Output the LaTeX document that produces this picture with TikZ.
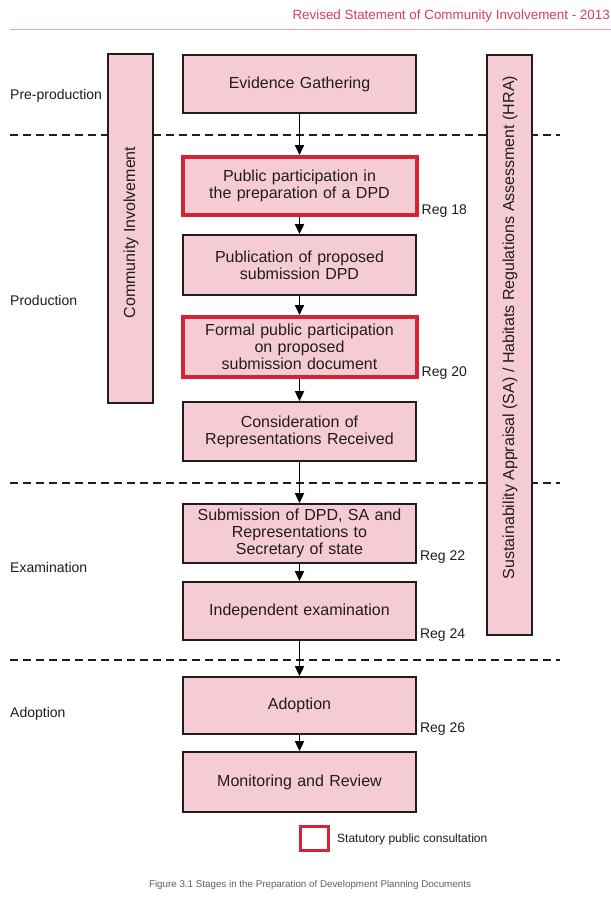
\documentclass[tikz,border=0pt]{standalone}
\usepackage{fontspec}
\setmainfont{Liberation Sans}
\usetikzlibrary{arrows.meta}
\definecolor{boxfill}{RGB}{245,204,212}
\definecolor{regred}{RGB}{214,34,52}
\definecolor{hdrred}{RGB}{216,62,92}
\definecolor{hdrline}{RGB}{236,160,178}
\definecolor{ink}{RGB}{35,28,28}
\definecolor{capgray}{RGB}{95,95,95}
\begin{document}
\begin{tikzpicture}[x=1pt,y=-1pt,
  stagebox/.style={draw=ink, line width=1.8pt, fill=boxfill, minimum width=233pt,
    text width=226pt, align=center, font=\fontsize{16}{17}\selectfont, text=ink, inner sep=0pt},
  statbox/.style={stagebox, draw=regred, line width=4pt, minimum width=234pt},
  sidebar/.style={draw=ink, line width=1.8pt, fill=boxfill, minimum width=45pt, inner sep=0pt},
  sidetext/.style={rotate=90, font=\fontsize{16}{17}\selectfont, text=ink, inner sep=0pt},
  phase/.style={anchor=west, font=\fontsize{14}{16}\selectfont, text=ink, inner sep=0pt},
  reglabel/.style={anchor=west, font=\fontsize{14}{16}\selectfont, text=ink, inner sep=0pt},
  divider/.style={draw=ink, line width=2pt, dash pattern=on 8pt off 5pt},
  flow/.style={draw=black, line width=1.8pt, -{Triangle[length=10pt,width=9pt]}}
]
\useasboundingbox (0,0) rectangle (611,914);
\fill[white] (0,0) rectangle (611,914);

% header
\node[anchor=east, font=\fontsize{13.4}{15}\selectfont, text=hdrred, inner sep=0pt] (hdr) at (610,16) {Revised Statement of Community Involvement - 2013};
\coordinate (hl1) at (10,29.5);
\coordinate (hl2) at (611,29.5);
\draw[hdrline, line width=1.5pt] (hl1) -- (hl2);

% dashed phase dividers
\draw[divider] (10,135) -- (560,135);
\draw[divider] (10,483) -- (560,483);
\draw[divider] (10,660) -- (560,660);

% side bars
\node[sidebar, minimum height=349pt] (ci) at (130.5,228.5) {};
\node[sidetext] (citext) at (131,232.5) {Community Involvement};
\node[sidebar, minimum height=580pt] (sa) at (509.5,345) {};
\node[sidetext] (satext) at (510,327.5) {Sustainability Appraisal (SA) / Habitats Regulations Assessment (HRA)};

% phase labels
\node[phase] (pre) at (10,96) {Pre-production};
\node[phase] (prod) at (10,300.5) {Production};
\node[phase] (exam) at (10,567) {Examination};
\node[phase] (adopt) at (10,714) {Adoption};

% stage boxes
\node[stagebox, minimum height=58pt] (eg) at (299.5,84) {Evidence Gathering};
\node[statbox, minimum height=58pt] (pp) at (299.5,186) {Public participation in\\the preparation of a DPD};
\node[stagebox, minimum height=60pt] (pub) at (299.5,265) {Publication of proposed\\submission DPD};
\node[statbox, minimum height=60pt] (fpp) at (299.5,347) {Formal public participation\\on proposed\\submission document};
\node[stagebox, minimum height=59pt] (con) at (299.5,431.5) {Consideration of\\Representations Received};
\node[stagebox, minimum height=59pt] (sub) at (299.5,533.5) {Submission of DPD, SA and\\Representations to\\Secretary of state};
\node[stagebox, minimum height=58pt] (ind) at (299.5,611) {Independent examination};
\node[stagebox, minimum height=57pt] (ado) at (299.5,705.5) {Adoption};
\node[stagebox, minimum height=60pt] (mon) at (299.5,782) {Monitoring and Review};

% regulation labels
\node[reglabel] (r18) at ([xshift=3pt,yshift=6pt]pp.south east) {Reg 18};
\node[reglabel] (r20) at ([xshift=3pt,yshift=6pt]fpp.south east) {Reg 20};
\node[reglabel] (r22) at ([xshift=3pt,yshift=6.5pt]sub.south east) {Reg 22};
\node[reglabel] (r24) at ([xshift=3pt,yshift=5.5pt]ind.south east) {Reg 24};
\node[reglabel] (r26) at ([xshift=3pt,yshift=5.5pt]ado.south east) {Reg 26};

% flow arrows
\draw[flow] (eg.south) -- (pp.north);
\draw[flow] (pp.south) -- (pub.north);
\draw[flow] (pub.south) -- (fpp.north);
\draw[flow] (fpp.south) -- (con.north);
\draw[flow] (con.south) -- (sub.north);
\draw[flow] (sub.south) -- (ind.north);
\draw[flow] (ind.south) -- (ado.north);
\draw[flow] (ado.south) -- (mon.north);

% legend
\node[draw=regred, line width=3.5pt, fill=white, minimum width=28pt, minimum height=24pt, inner sep=0pt] (leg) at (314.5,838.5) {};
\node[anchor=west, font=\fontsize{12}{14}\selectfont, text=ink, inner sep=0pt] (legtext) at (337,839) {Statutory public consultation};

% caption
\node[font=\fontsize{9.8}{12}\selectfont, text=capgray, inner sep=0pt] (cap) at (310,885) {Figure 3.1 Stages in the Preparation of Development Planning Documents};
\end{tikzpicture}
\end{document}
